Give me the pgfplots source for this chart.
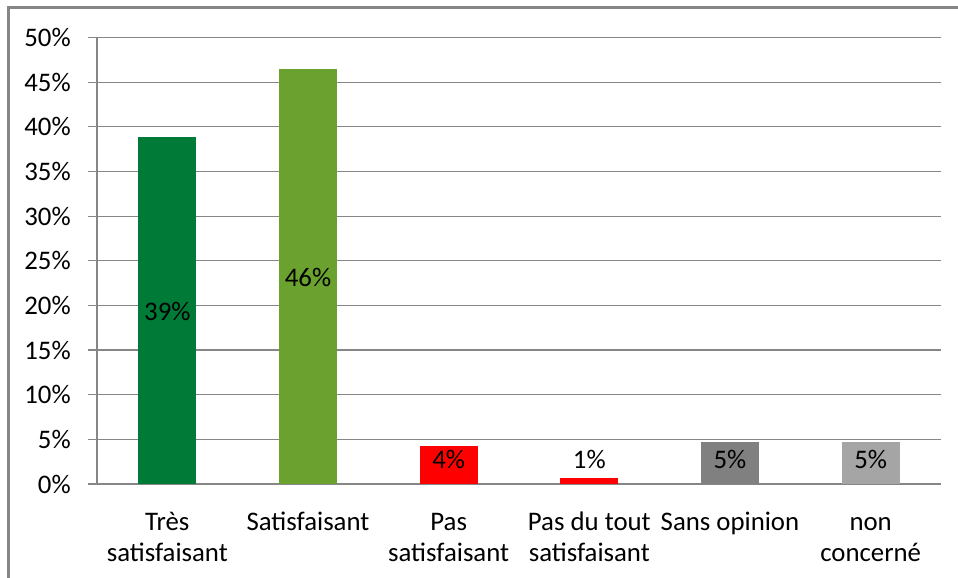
\documentclass[border=0pt]{standalone}
\usepackage{fontspec}
\setmainfont{Carlito}
\usepackage{pgfplots}
\pgfplotsset{compat=1.18}
\definecolor{gridgray}{HTML}{868686}
\definecolor{dkgreen}{HTML}{007A37}
\definecolor{ltgreen}{HTML}{6BA22F}
\definecolor{barred}{HTML}{FF0000}
\definecolor{dkgray}{HTML}{808080}
\definecolor{ltgray}{HTML}{A5A5A5}
\newcommand{\lbl}{\fontsize{13.4}{15.5}\selectfont}
\begin{document}
\lbl
\begin{tikzpicture}
\path[use as bounding box] (0,0) rectangle (479pt,289pt);
\draw[gridgray, line width=1.5pt] (4pt,0) -- (4pt,285pt) -- (479pt,285pt);
\begin{axis}[
  at={(48.5pt,47pt)}, anchor=south west,
  scale only axis, width=422pt, height=223.25pt,
  xmin=-0.5, xmax=5.5, ymin=0, ymax=50,
  axis x line=bottom, axis y line=left,
  axis line style={-, gridgray, line width=0.6pt},
  ytick={0,5,...,50},
  yticklabels={0\%,5\%,10\%,15\%,20\%,25\%,30\%,35\%,40\%,45\%,50\%},
  ymajorgrids, major grid style={gridgray, line width=0.6pt},
  tick align=outside, major tick length=4.5pt,
  ytick style={gridgray, line width=0.6pt},
  yticklabel style={font=\lbl, black, xshift=-4pt},
  xtick={0,...,5},
  xtick style={draw=none},
  xticklabels={\strut Très\\satisfaisant, \strut Satisfaisant, \strut Pas\\satisfaisant, \strut Pas du tout\\satisfaisant, \strut Sans opinion, \strut non\\concerné},
  xticklabel style={font=\lbl, align=center, yshift=-3pt},
  extra x ticks={-0.5,0.5,1.5,2.5,3.5,4.5,5.5},
  extra x tick labels={},
  extra x tick style={major tick length=4pt, tick style={draw=gridgray, line width=0.6pt}, grid=none},
  ybar, bar width=29pt,
  clip=false,
]
\addplot[fill=dkgreen, draw=none, bar shift=0pt] coordinates {(0,38.9)};
\addplot[fill=ltgreen, draw=none, bar shift=0pt] coordinates {(1,46.5)};
\addplot[fill=barred, draw=none, bar shift=0pt] coordinates {(2,4.25)};
\addplot[fill=barred, draw=none, bar shift=0pt] coordinates {(3,0.7)};
\addplot[fill=dkgray, draw=none, bar shift=0pt] coordinates {(4,4.7)};
\addplot[fill=ltgray, draw=none, bar shift=0pt] coordinates {(5,4.7)};
\addplot[draw=none, mark=none, sharp plot,
  nodes near coords, point meta=explicit symbolic,
  nodes near coords align={center},
  every node near coord/.append style={font=\lbl, black, anchor=center}]
  coordinates {(0,19.3)[39\%] (1,23.1)[46\%] (2,2.7)[4\%] (3,2.7)[1\%] (4,2.7)[5\%] (5,2.7)[5\%]};
\end{axis}
\end{tikzpicture}
\end{document}
